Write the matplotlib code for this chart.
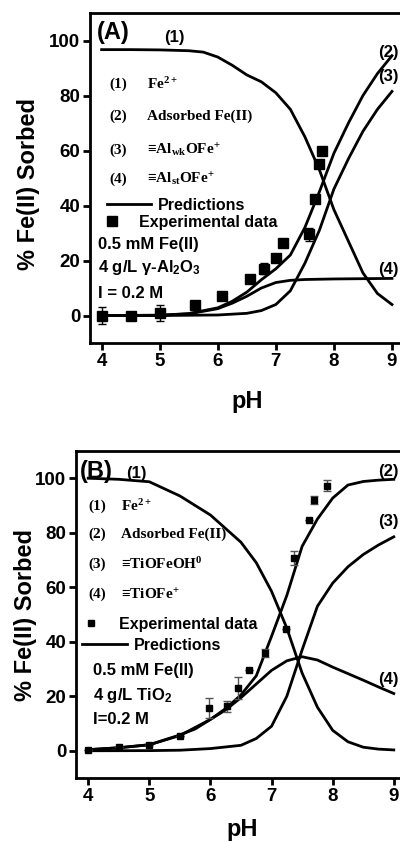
import numpy as np
import matplotlib
matplotlib.use('Agg')
import matplotlib.pyplot as plt

# ---- panel A : gamma-Al2O3 ----
phA_fe = [4.0, 4.5, 5.0, 5.5, 5.75, 6.0, 6.25, 6.5, 6.75, 7.0, 7.25, 7.5, 7.75, 8.0, 8.25, 8.5, 8.75, 9.0]
feA = [96.7, 96.7, 96.6, 96.3, 95.8, 94.0, 91.0, 87.5, 85.0, 81.0, 75.0, 65.0, 53.0, 38.5, 27.0, 15.5, 8.0, 4.0]
phA_ads = [4.0, 5.0, 5.5, 6.0, 6.25, 6.5, 6.75, 7.0, 7.25, 7.5, 7.75, 8.0, 8.25, 8.5, 8.75, 9.0]
adsA = [0.0, 0.1, 0.7, 2.8, 5.2, 8.5, 13.0, 17.0, 22.0, 32.0, 45.0, 59.0, 70.0, 80.0, 88.0, 94.5]
phA_wk = [4.0, 5.0, 6.0, 6.5, 6.75, 7.0, 7.25, 7.5, 7.75, 8.0, 8.25, 8.5, 8.75, 9.0]
wkA = [0.0, 0.0, 0.2, 0.8, 1.8, 4.0, 9.0, 19.0, 31.0, 46.0, 57.0, 67.0, 75.0, 81.5]
phA_st = [4.0, 5.0, 5.5, 6.0, 6.25, 6.5, 6.75, 7.0, 7.25, 7.5, 8.0, 9.0]
stA = [0.0, 0.1, 0.6, 2.5, 4.5, 7.0, 10.0, 12.0, 12.8, 13.1, 13.3, 13.5]
expA_ph = [4.0, 4.5, 5.0, 5.6, 6.07, 6.56, 6.8, 7.0, 7.12, 7.57, 7.68, 7.74, 7.8]
expA_val = [0.0, 0.0, 1.0, 4.0, 7.0, 13.3, 17.0, 21.0, 26.3, 29.5, 42.5, 55.0, 60.0]
expA_err = [3.0, 1.0, 3.0, 0, 0, 0, 2.0, 0, 0, 2.5, 0, 0, 0]

# ---- panel B : TiO2 ----
phB_fe = [4.0, 4.5, 5.0, 5.5, 6.0, 6.5, 6.75, 7.0, 7.25, 7.5, 7.75, 8.0, 8.25, 8.5, 8.75, 9.0]
feB = [100.0, 99.6, 98.7, 93.5, 86.5, 76.5, 69.0, 58.5, 45.0, 28.5, 16.0, 7.5, 3.3, 1.3, 0.6, 0.3]
phB_ads = [4.0, 4.5, 5.0, 5.5, 5.75, 6.0, 6.25, 6.5, 6.75, 7.0, 7.25, 7.5, 7.75, 8.0, 8.25, 8.5, 8.75, 9.0]
adsB = [0.4, 1.1, 2.2, 5.8, 8.0, 11.5, 15.5, 20.5, 27.5, 42.0, 57.0, 75.0, 85.0, 92.7, 97.5, 98.8, 99.3, 99.6]
phB_oh = [4.0, 5.0, 5.5, 6.0, 6.5, 6.75, 7.0, 7.25, 7.5, 7.75, 8.0, 8.25, 8.5, 8.75, 9.0]
ohB = [0.0, 0.05, 0.2, 0.8, 2.0, 4.5, 9.0, 20.0, 37.0, 53.0, 61.5, 67.5, 72.0, 75.5, 78.5]
phB_ti = [4.0, 4.5, 5.0, 5.5, 6.0, 6.25, 6.5, 6.75, 7.0, 7.25, 7.5, 7.75, 8.0, 8.25, 8.5, 8.75, 9.0]
tiB = [0.4, 1.1, 2.2, 5.6, 11.5, 15.0, 19.5, 24.5, 29.5, 33.0, 34.5, 33.3, 30.7, 28.3, 25.9, 23.4, 21.0]
expB_ph = [4.0, 4.5, 5.0, 5.5, 5.98, 6.27, 6.45, 6.63, 6.89, 7.23, 7.37, 7.61, 7.7, 7.9]
expB_val = [0.4, 1.3, 2.2, 5.5, 15.7, 16.3, 23.0, 29.6, 36.0, 44.5, 70.8, 84.8, 92.0, 97.2]
expB_err = [0, 0, 0, 0, 3.8, 2.0, 4.0, 0, 1.5, 0, 2.5, 0, 1.5, 2.0]

xticks = [4, 5, 6, 7, 8, 9]
yticks = [0, 20, 40, 60, 80, 100]

plt.rcParams['font.family'] = ['Liberation Sans', 'DejaVu Sans']
plt.rcParams['font.weight'] = 'bold'
plt.rcParams['mathtext.default'] = 'regular'
serif = ['Liberation Serif', 'DejaVu Serif']

fig = plt.figure(figsize=(4, 8.42), dpi=100)
axA = fig.add_axes([0.225, 0.5926, 0.784, 0.3919])
axB = fig.add_axes([0.19, 0.076, 0.825, 0.3884])

for ax in (axA, axB):
    ax.set_xlim(3.8, 9.2)
    ax.set_ylim(-10, 110)
    ax.set_xticks(xticks)
    ax.set_yticks(yticks)
    ax.tick_params(direction='out', length=5, width=2, labelsize=13.5, pad=2)
    for s in ax.spines.values():
        s.set_linewidth(2)

# panel A curves
axA.plot(phA_fe, feA, color='black', lw=2)
axA.plot(phA_ads, adsA, color='black', lw=2)
axA.plot(phA_wk, wkA, color='black', lw=2)
line_a, = axA.plot(phA_st, stA, color='black', lw=2, label='Predictions')
axA.errorbar(expA_ph, expA_val, yerr=expA_err, fmt='none', ecolor='black', elinewidth=1, capsize=3)
pts_a, = axA.plot(expA_ph, expA_val, 's', color='black', ms=6.5, label='Experimental data')

# panel B curves
axB.plot(phB_fe, feB, color='black', lw=2)
axB.plot(phB_ads, adsB, color='black', lw=2)
axB.plot(phB_oh, ohB, color='black', lw=2)
line_b, = axB.plot(phB_ti, tiB, color='black', lw=2, label='Predictions')
axB.errorbar(expB_ph, expB_val, yerr=expB_err, fmt='none', ecolor='#555555', elinewidth=1, capsize=3)
pts_b, = axB.plot(expB_ph, expB_val, 's', color='black', ms=5, label='Experimental data')

# legends (two per panel so line and marker keys sit like the original)
def two_legends(ax, line, pts, line_at, pts_at, pad_line, pad_pts):
    l1 = ax.legend(handles=[line], loc='center left', bbox_to_anchor=line_at,
                   bbox_transform=ax.transData, frameon=False, borderpad=0,
                   borderaxespad=0, handlelength=2.8, handletextpad=pad_line,
                   prop={'size': 11.5, 'weight': 'bold'})
    ax.add_artist(l1)
    ax.legend(handles=[pts], loc='center left', bbox_to_anchor=pts_at,
              bbox_transform=ax.transData, frameon=False, borderpad=0,
              borderaxespad=0, handlelength=1.0, handletextpad=pad_pts,
              numpoints=1, prop={'size': 11.5, 'weight': 'bold'})

two_legends(axA, line_a, pts_a, (4.086, 40), (4.034, 33.8), 0.38, 1.2)
two_legends(axB, line_b, pts_b, (3.902, 38.7), (3.918, 46.4), 0.44, 1.25)

# panel A text
axA.text(3.91, 103, '(A)', fontsize=17, ha='left', va='center')
axA.text(5.26, 101, '(1)', fontsize=12, ha='center', va='center')
axA.text(8.76, 95.6, '(2)', fontsize=12, ha='left', va='center')
axA.text(8.76, 87, '(3)', fontsize=12, ha='left', va='center')
axA.text(8.76, 16.7, '(4)', fontsize=12, ha='left', va='center')
namesA = ['Fe$^{2+}$', 'Adsorbed Fe(II)', '\u2261Al$_{wk}$OFe$^{+}$', '\u2261Al$_{st}$OFe$^{+}$']
rowsA = [84, 72.4, 60, 49.5]
for i, (nm, yy) in enumerate(zip(namesA, rowsA)):
    axA.text(4.14, yy, '(%d)' % (i + 1), family=serif, fontsize=11, ha='left', va='center')
    axA.text(4.79, yy, nm, family=serif, fontsize=11, ha='left', va='center')
axA.text(3.93, 25.8, '0.5 mM Fe(II)', fontsize=12, ha='left', va='center')
axA.text(3.93, 17.5, '4 g/L \u03b3-Al$_2$O$_3$', fontsize=12, ha='left', va='center')
axA.text(3.93, 8, 'I = 0.2 M', fontsize=12, ha='left', va='center')

# panel B text
axB.text(3.87, 102.5, '(B)', fontsize=17, ha='left', va='center')
axB.text(4.78, 101.8, '(1)', fontsize=12, ha='center', va='center')
axB.text(8.75, 102.5, '(2)', fontsize=12, ha='left', va='center')
axB.text(8.75, 84.3, '(3)', fontsize=12, ha='left', va='center')
axB.text(8.75, 26, '(4)', fontsize=12, ha='left', va='center')
namesB = ['Fe$^{2+}$', 'Adsorbed Fe(II)', '\u2261TiOFeOH$^{0}$', '\u2261TiOFe$^{+}$']
rowsB = [89.8, 79.6, 68.6, 57.3]
for i, (nm, yy) in enumerate(zip(namesB, rowsB)):
    axB.text(4.0, yy, '(%d)' % (i + 1), family=serif, fontsize=11, ha='left', va='center')
    axB.text(4.54, yy, nm, family=serif, fontsize=11, ha='left', va='center')
axB.text(4.07, 29.6, '0.5 mM Fe(II)', fontsize=12, ha='left', va='center')
axB.text(4.07, 20.4, '4 g/L TiO$_2$', fontsize=12, ha='left', va='center')
axB.text(4.07, 11.3, 'I=0.2 M', fontsize=12, ha='left', va='center')

# axis titles
fig.text(0.6175, 0.5226, 'pH', fontsize=17, ha='center', va='center')
fig.text(0.606, 0.0143, 'pH', fontsize=17, ha='center', va='center')
fig.text(0.07, 0.7815, '% Fe(II) Sorbed', fontsize=17, rotation=90, ha='center', va='center')
fig.text(0.065, 0.27, '% Fe(II) Sorbed', fontsize=17, rotation=90, ha='center', va='center')

fig.savefig('out.png', dpi=100)
